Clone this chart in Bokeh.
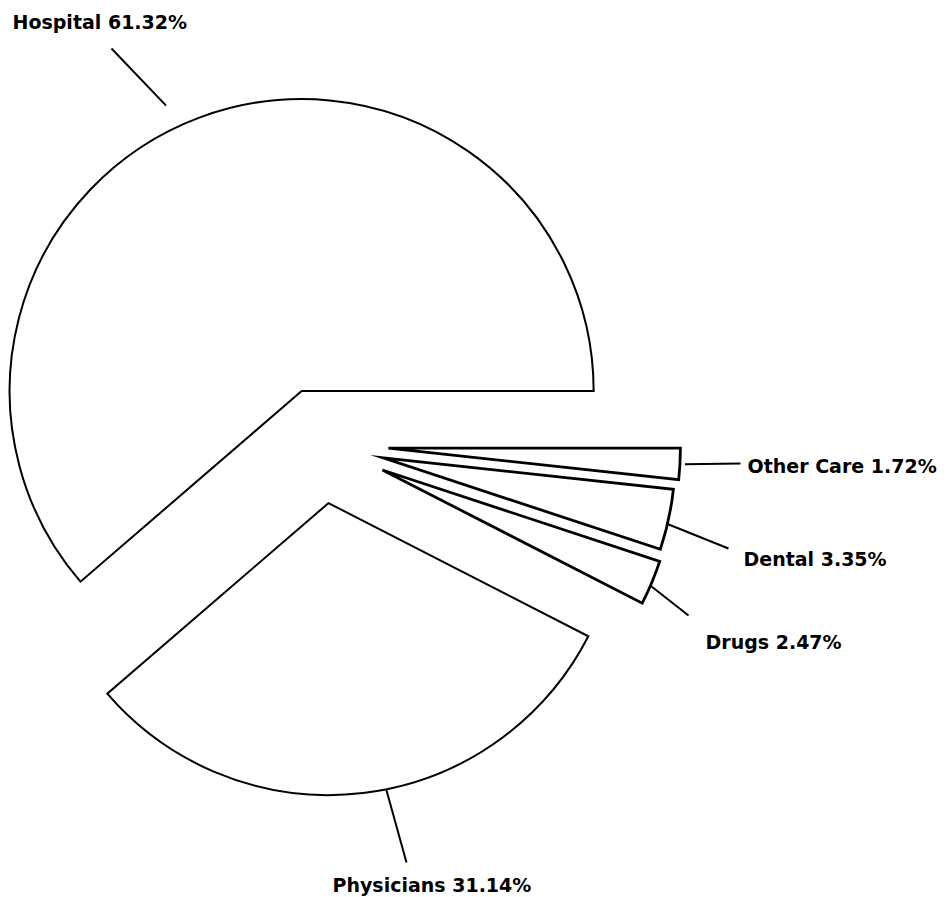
import math

import numpy as np
from bokeh.core.properties import value
from bokeh.embed import file_html
from bokeh.models import ColumnDataSource, Range1d
from bokeh.plotting import figure
from bokeh.resources import INLINE

# Shares of spending by type of care (percent)
categories = ["Hospital", "Physicians", "Drugs", "Dental", "Other Care"]
shares = [61.32, 31.14, 2.47, 3.35, 1.72]

# ---- layout (page pixels, y measured upward from the bottom) ----
W, H = 946, 897
CENTER = (321.0, 453.0)
RADIUS = 292.0
explode = [57, 59, 66, 63, 67]            # distance each slice is pulled out
outline = [2.0, 2.0, 2.8, 2.8, 2.8]       # outline width per slice

# leader lines: attach angle (deg) and distance from the slice tip, then end point
leader_attach = [(115.4, 316), (281.4, 292), (336.7, 291), (346.9, 292), (356.9, 297)]
leader_end = [(111, 849), (406, 35), (688, 282), (728, 349), (740, 434)]
# label anchors (left edge, baseline)
label_pos = [(12, 876), (332, 13), (705, 256), (743, 339), (747, 432)]

# ---- slice geometry: counterclockwise from 3 o'clock ----
frac = np.array(shares) / 100.0
ends = np.cumsum(frac) * 2 * math.pi
starts = ends - frac * 2 * math.pi
mids = (starts + ends) / 2
ex = np.array(explode, dtype=float)
tip_x = CENTER[0] + ex * np.cos(mids)
tip_y = CENTER[1] + ex * np.sin(mids)

slices = ColumnDataSource(dict(
    x=tip_x, y=tip_y, start=starts, end=ends, lw=outline,
    name=categories,
))

lx0, ly0 = [], []
for (ang, r), tx, ty in zip(leader_attach, tip_x, tip_y):
    a = math.radians(ang)
    lx0.append(tx + r * math.cos(a))
    ly0.append(ty + r * math.sin(a))
leaders = ColumnDataSource(dict(
    x0=lx0, y0=ly0,
    x1=[e[0] for e in leader_end], y1=[e[1] for e in leader_end],
))

labels = ColumnDataSource(dict(
    x=[p[0] for p in label_pos], y=[p[1] for p in label_pos],
    text=[f"{c} {s:.2f}%" for c, s in zip(categories, shares)],
))

p = figure(
    width=W, height=H,
    x_range=Range1d(0, W), y_range=Range1d(0, H),
    output_backend="svg", toolbar_location=None,
    x_axis_location=None, y_axis_location=None,
    min_border=0, outline_line_color=None,
    background_fill_color="white", border_fill_color="white",
)
p.grid.visible = False

p.wedge(x="x", y="y", radius=RADIUS, start_angle="start", end_angle="end",
        source=slices, fill_color="white", line_color="black",
        line_width="lw", line_join="miter")

p.segment(x0="x0", y0="y0", x1="x1", y1="y1", source=leaders,
          line_color="black", line_width=2)

p.text(x="x", y="y", text="text", source=labels,
       text_font=value("DejaVu Sans"), text_font_size=value("19px"),
       text_font_style="bold", text_color="black",
       text_align="left", text_baseline="alphabetic")

open("out.html", "w").write(file_html(p, INLINE))
